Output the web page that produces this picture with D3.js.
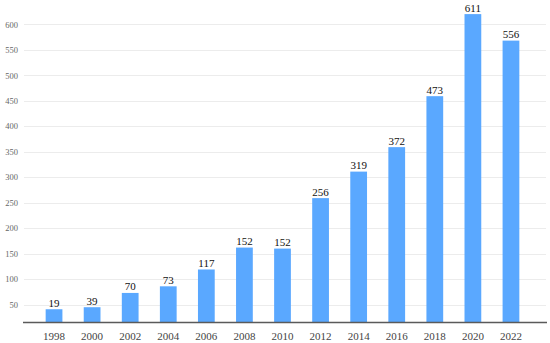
<!DOCTYPE html>
<html>
<head>
<meta charset="utf-8">
<script src="https://cdn.jsdelivr.net/npm/d3@7"></script>
<style>
  body { margin: 0; background: #fff; }
  svg { display: block; }
  svg text { font-family: 'Liberation Serif', 'Times New Roman', Times, 'DejaVu Serif', serif; }
</style>
</head>
<body>
<div id="app"></div>
<script>
// years along the x axis
const years = ['1998', '2000', '2002', '2004', '2006', '2008', '2010',
  '2012', '2014', '2016', '2018', '2020', '2022'];
// bar heights as drawn in the picture
const barValues = [41, 45, 73, 86, 119, 162, 160, 259, 311, 359, 459, 620, 568];
// labels printed above the bars
const barLabels = ['19', '39', '70', '73', '117', '152', '152', '256', '319', '372', '473', '611', '556'];
const yTicks = [50, 100, 150, 200, 250, 300, 350, 400, 450, 500, 550, 600];

const width = 550, height = 343;
const serif = "'Liberation Serif', 'Times New Roman', Times, serif";

const svg = d3.select('#app').append('svg')
  .attr('width', width)
  .attr('height', height);

const x = d3.scaleBand()
  .domain(years)
  .range([35, 530])
  .paddingInner(0.56)
  .paddingOuter(0.28);

const y = d3.scaleLinear()
  .domain([15.4, 600])
  .range([322.3, 24.3]);

// gridlines
svg.append('g')
  .selectAll('line')
  .data(yTicks)
  .enter()
  .append('line')
  .attr('x1', 24)
  .attr('x2', 546)
  .attr('y1', d => Math.round(y(d)) + 0.5)
  .attr('y2', d => Math.round(y(d)) + 0.5)
  .attr('stroke', '#ececec')
  .attr('stroke-width', 1);

// y tick labels
const yAxis = d3.axisLeft(y)
  .tickValues(yTicks)
  .tickSize(0)
  .tickPadding(0);

const gy = svg.append('g')
  .attr('transform', 'translate(18,0)')
  .call(yAxis)
  .attr('font-family', serif)
  .attr('font-size', 8.5);
gy.select('.domain').remove();
gy.selectAll('text')
  .attr('fill', '#666');

// bars
const bars = svg.selectAll('.bar')
  .data(years)
  .enter()
  .append('g');

bars.append('rect')
  .attr('class', 'bar')
  .attr('x', d => x(d))
  .attr('width', x.bandwidth())
  .attr('y', (d, i) => y(barValues[i]))
  .attr('height', (d, i) => y(15.4) - y(barValues[i]))
  .attr('fill', '#5aa8ff');

bars.append('text')
  .attr('x', d => x(d) + x.bandwidth() / 2)
  .attr('y', (d, i) => y(barValues[i]) - 2.5)
  .attr('text-anchor', 'middle')
  .attr('fill', '#111')
  .attr('font-family', serif)
  .attr('font-size', 11)
  .text((d, i) => barLabels[i]);

// x axis
const xAxis = d3.axisBottom(x)
  .tickSize(0)
  .tickPadding(10);

const gx = svg.append('g')
  .attr('transform', 'translate(0,' + 322.3 + ')')
  .call(xAxis)
  .attr('font-family', serif)
  .attr('font-size', 11);
gx.select('.domain').remove();
gx.selectAll('text')
  .attr('fill', '#444');

svg.append('line')
  .attr('x1', 23)
  .attr('x2', 547)
  .attr('y1', 322.5)
  .attr('y2', 322.5)
  .attr('stroke', '#5a5a5a')
  .attr('stroke-width', 1.5);
</script>
</body>
</html>
